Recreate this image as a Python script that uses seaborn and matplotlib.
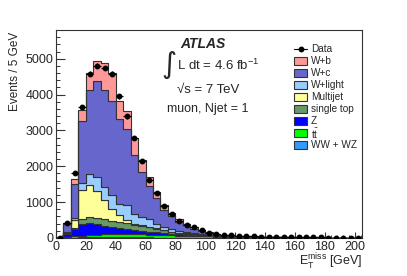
#Import Libraries
import numpy as np
import pandas as pd
import matplotlib
matplotlib.use("Agg")
import matplotlib.pyplot as plt
from matplotlib.patches import Rectangle
from matplotlib.lines import Line2D
from matplotlib.ticker import MultipleLocator
import seaborn as sns

#Binning: 5 GeV bins from 0 to 205 GeV
edges = np.arange(0, 210, 5)
centers = edges[:-1] + 2.5

#Observed events per bin
data_events = [10, 425, 1820, 3650, 4580, 4800, 4740, 4580, 3950, 3390,
               2780, 2150, 1620, 1260, 905, 670, 478, 360, 300, 215,
               150, 115, 88, 70, 58, 48, 42, 36, 32, 28,
               25, 22, 20, 18, 16, 14, 13, 12, 11, 10, 9]

#Expected events per process
ww_wz = [1, 3, 10, 15, 18, 20, 20, 20, 20, 18, 17, 15, 14, 13, 12, 11, 10, 9, 8, 7,
         5, 4, 3, 3, 2, 2, 2, 1, 1, 1, 1, 1, 1, 1, 1, 1, 0, 0, 0, 0, 0]
ttbar = [1, 12, 40, 45, 62, 75, 85, 95, 98, 97, 91, 85, 78, 72, 66, 61, 56, 51, 47, 43,
         38, 32, 26, 22, 19, 16, 14, 12, 11, 10, 9, 8, 7, 6, 6, 5, 5, 4, 4, 4, 3]
z_jets = [6, 85, 210, 340, 340, 285, 235, 190, 157, 130, 114, 100, 88, 75, 62, 53, 44, 35, 30, 25,
          20, 14, 10, 7, 6, 5, 4, 3, 3, 2, 2, 2, 2, 2, 1, 1, 1, 1, 1, 1, 1]
single_top = [2, 20, 30, 140, 160, 165, 185, 180, 175, 170, 153, 135, 120, 95, 70, 45, 35, 30, 20, 15,
              12, 9, 7, 6, 4, 3, 3, 3, 2, 2, 2, 1, 1, 1, 1, 1, 1, 1, 1, 0, 0]
multijet = [2, 20, 210, 800, 900, 755, 525, 325, 195, 90, 20, 15, 15, 10, 10, 8, 5, 5, 3, 2,
            2, 1, 1, 0, 0, 0, 0, 0, 0, 0, 0, 0, 0, 0, 0, 0, 0, 0, 0, 0, 0]
w_light = [1, 20, 50, 190, 300, 390, 370, 385, 310, 415, 275, 245, 210, 130, 100, 72, 50, 35, 27, 20,
           15, 11, 8, 6, 5, 4, 3, 3, 2, 2, 2, 2, 1, 1, 1, 1, 1, 1, 1, 1, 1]
w_c = [5, 220, 967, 1746, 2335, 2676, 2715, 2620, 2360, 2120, 1640, 1240, 935, 730, 460, 360, 255, 185, 123, 90,
       50, 37, 27, 22, 18, 15, 13, 11, 10, 9, 7, 6, 6, 5, 5, 4, 4, 4, 3, 3, 3]
w_b = [2, 30, 123, 299, 485, 559, 745, 785, 492, 500, 470, 345, 235, 145, 140, 90, 65, 50, 42, 33,
       13, 10, 8, 6, 5, 4, 3, 3, 3, 2, 2, 2, 2, 2, 1, 1, 1, 1, 1, 1, 1]

processes = ["W+b", "W+c", "W+light", "Multijet", "single top", "Z", "tt", "WW + WZ"]
colors = {"W+b": "#ff9999", "W+c": "#6666cc", "W+light": "#99ccff",
          "Multijet": "#ffff99", "single top": "#669966", "Z": "#0000ff",
          "tt": "#00ff00", "WW + WZ": "#3399ff"}
series = {"W+b": w_b, "W+c": w_c, "W+light": w_light, "Multijet": multijet,
          "single top": single_top, "Z": z_jets, "tt": ttbar, "WW + WZ": ww_wz}

#Long table for seaborn
rows = []
for name in processes:
    for c, v in zip(centers, series[name]):
        rows.append({"met": c, "events": v, "process": name})
df = pd.DataFrame(rows)

#Style
sns.set_style("ticks")
plt.rcParams["font.family"] = ["Liberation Sans", "DejaVu Sans"]
plt.rcParams["mathtext.fontset"] = "custom"
plt.rcParams["mathtext.rm"] = "Liberation Sans"
plt.rcParams["mathtext.it"] = "Liberation Sans:italic"

fig = plt.figure(figsize=(4.07, 2.76), dpi=100)
ax = fig.add_axes([56 / 407, 1 - 238 / 276, (362 - 56) / 407, (238 - 30) / 276])

#Stacked MC (first hue level ends on top)
sns.histplot(data=df, x="met", weights="events", hue="process",
             hue_order=processes, palette=colors, multiple="stack",
             binwidth=5, binrange=(0, 205), element="step", edgecolor="#333333",
             linewidth=0.8, alpha=1, legend=False, ax=ax)

#Data points
ax.errorbar(centers, data_events, xerr=2.5, yerr=np.sqrt(data_events),
            fmt="o", color="black", ms=3.2, elinewidth=0.8, capsize=0, zorder=5)

#Axes
ax.set_xlim(0, 205)
ax.set_ylim(0, 5800)
ax.xaxis.set_major_locator(MultipleLocator(20))
ax.xaxis.set_minor_locator(MultipleLocator(4))
ax.yaxis.set_major_locator(MultipleLocator(1000))
ax.yaxis.set_minor_locator(MultipleLocator(200))
ax.tick_params(which="both", direction="in", top=False, right=False,
               labelsize=9, color="#333333")
ax.tick_params(axis="y", which="major", length=6.5, width=0.8, pad=2)
ax.tick_params(axis="y", which="minor", length=3.2, width=0.7)
ax.tick_params(axis="x", which="major", length=4.5, width=0.8, pad=2)
ax.tick_params(axis="x", which="minor", length=2.3, width=0.7)
for s in ax.spines.values():
    s.set_color("#333333")
    s.set_linewidth(0.8)
ax.set_xlabel("")
ax.set_ylabel("")

fig.text(15.5 / 407, 1 - 32 / 276, "Events / 5 GeV", rotation=90,
         ha="center", va="top", fontsize=8.5)
fig.text(362 / 407, 1 - 265.5 / 276,
         r"E$_{\mathrm{T}}^{\mathrm{miss}}$ [GeV]", ha="right",
         va="baseline", fontsize=9)

#Labels
fig.text(180 / 407, 1 - 48 / 276, "ATLAS", fontsize=10, fontweight="bold",
         fontstyle="italic", va="baseline")
fig.text(161 / 407, 1 - 65 / 276, "\u222b", fontsize=21, va="center",
         family="DejaVu Sans")
fig.text(177 / 407, 1 - 70 / 276, r"L dt = 4.6 fb$^{\mathrm{-1}}$",
         fontsize=9.5, va="baseline")
fig.text(177 / 407, 1 - 93 / 276, "\u221as = 7 TeV", fontsize=9.5,
         va="baseline")
fig.text(167 / 407, 1 - 112 / 276, "muon, Njet = 1", fontsize=9,
         va="baseline")

#Legend drawn by hand
legend_labels = ["W+b", "W+c", "W+light", "Multijet", "single top", "Z",
                 r"$\mathrm{t\bar{t}}$", "WW + WZ"]
y0 = 49.3
dy = 11.95
fig.add_artist(Line2D([294 / 407, 307 / 407], [1 - y0 / 276, 1 - y0 / 276],
                      color="black", lw=0.8, transform=fig.transFigure))
fig.add_artist(Line2D([300.5 / 407], [1 - y0 / 276], color="black",
                      marker="o", ms=3.2, transform=fig.transFigure))
fig.text(311 / 407, 1 - y0 / 276, "Data", fontsize=7.2, va="center")
for i, (name, lab) in enumerate(zip(processes, legend_labels)):
    yc = y0 + dy * (i + 1)
    fig.add_artist(Rectangle((294 / 407, 1 - (yc + 4) / 276), 13 / 407,
                             8 / 276, facecolor=colors[name],
                             edgecolor="#333333", lw=0.8,
                             transform=fig.transFigure))
    fig.text(311 / 407, 1 - yc / 276, lab, fontsize=7.2, va="center")

fig.savefig("out.png", dpi=100)
print("Saved out.png")
